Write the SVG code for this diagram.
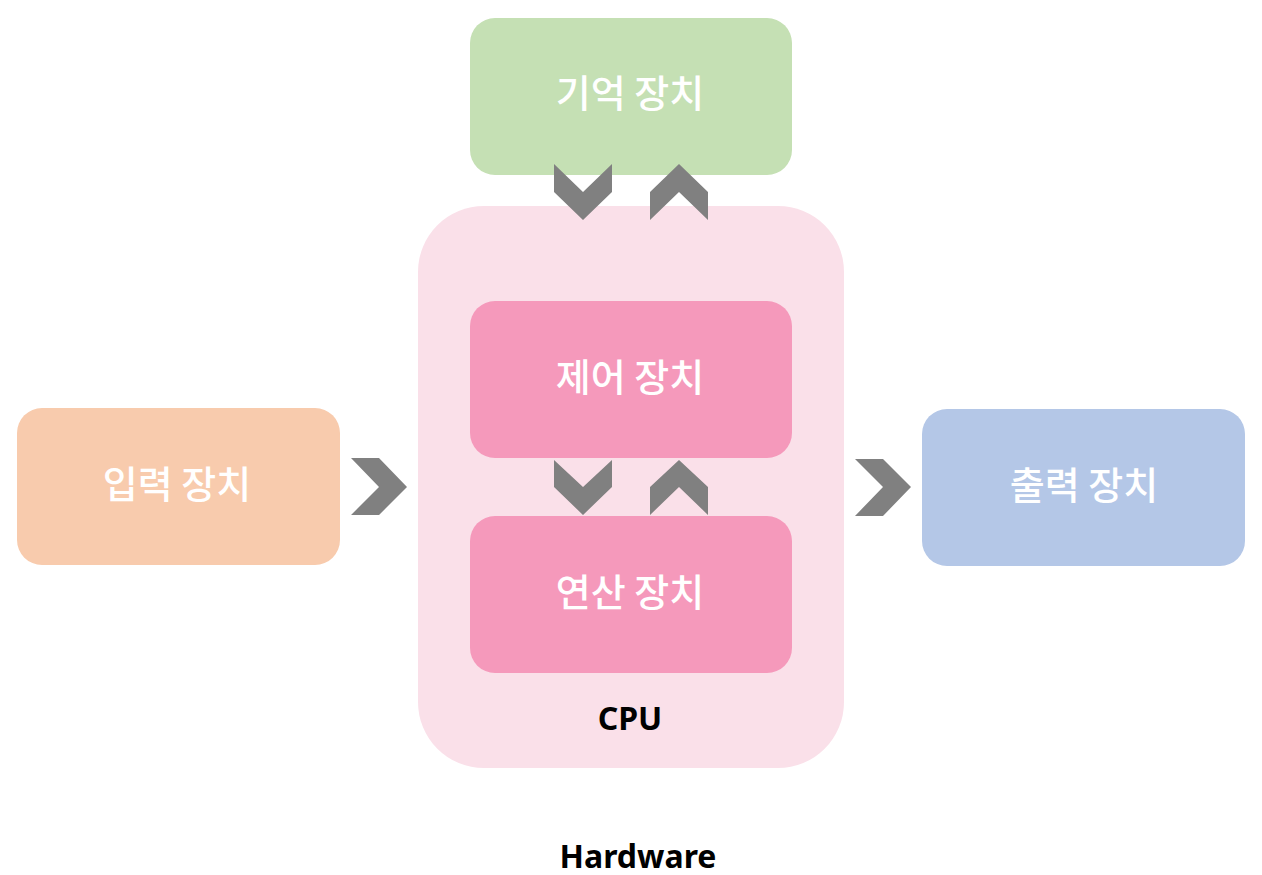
<svg xmlns="http://www.w3.org/2000/svg" width="1262" height="875" viewBox="0 0 1262 875">
<style>
.lbl{font-family:"Noto Sans CJK KR","Noto Sans",sans-serif;font-size:38px;font-weight:500;fill:#ffffff;text-anchor:middle;dominant-baseline:central}
.blk{font-family:"Noto Sans","Noto Sans CJK KR",sans-serif;font-size:32px;font-weight:700;fill:#000000;text-anchor:middle}
.chev{fill:#808080}
</style>
<rect width="1262" height="875" fill="#ffffff"/>
<g id="cpu">
<rect x="418" y="206" width="426" height="562" rx="66" fill="#FAE0E9"/>
<text class="blk" x="630" y="730">CPU</text>
</g>
<g id="memory">
<rect x="470" y="18" width="322" height="157" rx="25" fill="#C5E0B4"/>
<text class="lbl" x="630" y="90">기억 장치</text>
</g>
<g id="control">
<rect x="470" y="301" width="322" height="157" rx="25" fill="#F599BB"/>
<text class="lbl" x="630" y="374">제어 장치</text>
</g>
<g id="alu">
<rect x="470" y="516" width="322" height="157" rx="25" fill="#F599BB"/>
<text class="lbl" x="630" y="589">연산 장치</text>
</g>
<g id="input">
<rect x="17" y="408" width="323" height="157" rx="25" fill="#F8CBAD"/>
<text class="lbl" x="177" y="481">입력 장치</text>
</g>
<g id="output">
<rect x="922" y="409" width="323" height="157" rx="25" fill="#B4C7E7"/>
<text class="lbl" x="1084" y="482">출력 장치</text>
</g>
<g id="connectors">
<polygon class="chev" points="554,164 583,192 612,164 612,192 583,220 554,192"/>
<polygon class="chev" points="650,192 679,164 708,192 708,220 679,192 650,220"/>
<polygon class="chev" points="554,460 583,487 612,460 612,487 583,515 554,487"/>
<polygon class="chev" points="650,487 679,460 708,487 708,515 679,487 650,515"/>
<polygon class="chev" points="351,458 379,458 407,487 379,515 351,515 379,487"/>
<polygon class="chev" points="855,459 883,459 911,487 883,516 855,516 883,487"/>
</g>
<g id="hardware">
<text class="blk" x="638" y="868">Hardware</text>
</g>
</svg>
